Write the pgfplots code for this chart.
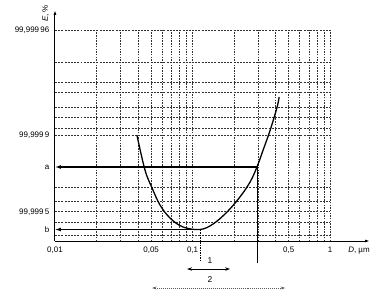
\documentclass[border=0pt]{standalone}
\usepackage{pgfplots}
\pgfplotsset{compat=1.18}
\usepackage{fontspec}
\setmainfont{Liberation Sans}
\usetikzlibrary{arrows.meta}
\begin{document}
\begin{tikzpicture}
\path[use as bounding box] (0,0) rectangle (392bp,300bp);
\begin{axis}[
  at={(55bp,59bp)}, anchor=south west,
  scale only axis, width=315bp, height=231bp,
  xmode=log, xmin=0.01, xmax=1.95, ymin=0, ymax=231,
  axis lines=left,
  axis line style={line width=1pt, -{Latex[length=5pt,width=3pt]}},
  xtick={0.01,0.05,0.1,0.5,1},
  xticklabels={0{,}01,0{,}05,0{,}1,0{,}5,1},
  ytick={11,29,74,106,211},
  yticklabels={b,99{,}999\,5,a,99{,}999\,9,99{,}999\,96},
  tick style={draw=none},
  minor tick num=0,
  tick label style={font=\fontsize{8}{9}\selectfont},
  /pgf/number format/assume math mode=true,
  xlabel={\textit{D}, µm}, ylabel={\textit{E}, \%},
  x label style={at={(axis description cs:0.965,0)}, anchor=north, yshift=-2bp, font=\fontsize{8}{9}\selectfont},
  y label style={at={(axis description cs:-0.03,0.985)}, anchor=center, font=\fontsize{8}{9}\selectfont},
  clip=false,
]
% grid
\pgfplotsinvokeforeach{0.02,0.03,0.04,0.05,0.06,0.07,0.08,0.09,0.1,0.2,0.3,0.4,0.5,0.6,0.7,0.8,0.9,1}{
  \addplot[black!80, line width=0.45pt, dash pattern=on 1.5pt off 1.2pt] coordinates {(#1,0) (#1,211)};
}
\pgfplotsinvokeforeach{6,19,30,40,54,106,113,124,134,149,159,179,211}{
  \addplot[black!80, line width=0.45pt, dash pattern=on 2pt off 1.2pt] coordinates {(0.01,#1) (1,#1)};
}
% curve
\addplot[black, line width=1.3pt, smooth, tension=0.6] coordinates {
 (0.0394,106) (0.0451,71) (0.0508,53) (0.0580,36) (0.0686,23)
 (0.0853,14) (0.1134,11.5) (0.141,17) (0.178,29) (0.221,44) (0.262,59)
 (0.294,74) (0.326,91) (0.367,111) (0.412,134) (0.426,144)
};
% levels a and b
\addplot[black, line width=1.1pt, arrows={-Latex[length=6pt,width=4pt]}] coordinates {(0.294,74) (0.01,74)};
\addplot[black, line width=1.1pt, arrows={-Latex[length=6pt,width=4pt]}] coordinates {(0.1134,11.5) (0.01,11.5)};
% verticals
\addplot[black, line width=0.5pt, dash pattern=on 1.5pt off 1pt] coordinates {(0.1134,11) (0.1134,-20)};
\addplot[black, line width=0.6pt] coordinates {(0.294,74) (0.294,-22)};
% ranges
\addplot[black, line width=0.8pt, arrows={Stealth[length=5pt,width=3.5pt]-Stealth[length=5pt,width=3.5pt]}] coordinates {(0.0912,-28) (0.1875,-28)};
\addplot[black!65, line width=0.6pt, dash pattern=on 1pt off 1pt, arrows={Stealth[length=4.5pt,width=3pt]-Stealth[length=4.5pt,width=3pt]}] coordinates {(0.0508,-47) (0.471,-47)};
\node[font=\fontsize{8.5}{9}\selectfont] at (axis cs:0.134,-20) {1};
\node[font=\fontsize{8.5}{9}\selectfont] at (axis cs:0.134,-39) {2};
\end{axis}
\end{tikzpicture}
\end{document}
